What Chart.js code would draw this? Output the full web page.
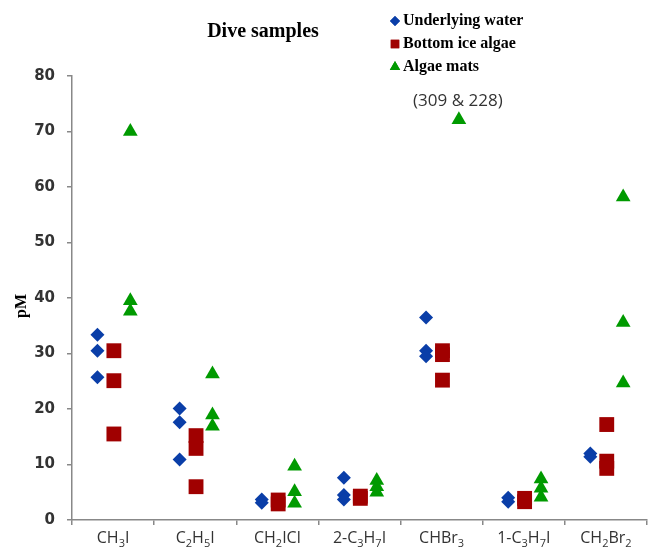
<!DOCTYPE html>
<html>
<head>
<meta charset="utf-8">
<script src="https://cdn.jsdelivr.net/npm/chart.js"></script>
<style>
  html,body{margin:0;padding:0;background:#fff;}
  #wrap{width:669px;height:548px;}
</style>
</head>
<body>
<div id="wrap"><canvas id="chart" width="669" height="548"></canvas></div>
<script>
/* ---------- DATA ---------- */
// category names, split into [text, isSubscript] runs
const categories = [
  [["CH",0],["3",1],["I",0]],
  [["C",0],["2",1],["H",0],["5",1],["I",0]],
  [["CH",0],["2",1],["ICl",0]],
  [["2-C",0],["3",1],["H",0],["7",1],["I",0]],
  [["CHBr",0],["3",1]],
  [["1-C",0],["3",1],["H",0],["7",1],["I",0]],
  [["CH",0],["2",1],["Br",0],["2",1]]
];
const underlyingWater = [[33.4,30.5,25.7],[20.1,17.6,10.9],[3.7,3.1],[7.6,4.5,3.7],[36.5,30.5,29.5],[4.0,3.3],[12.0,11.4]];
const bottomIceAlgae  = [[30.5,25.1,15.5],[15.2,12.9,6.0],[3.6,2.9],[4.3,3.9],[30.5,29.8,25.2],[3.9,3.3],[17.2,10.6,9.3]];
const algaeMats       = [[70.0,39.5,37.6],[26.3,18.9,16.9],[9.7,5.1,3.0],[7.1,6.0,5.0],[72.1],[7.4,5.7,4.1],[58.2,35.6,24.7]];
const offScaleNote = "(309 & 228)";   // CHBr3 algae mats values above the axis
const offScaleCategory = 4;
const yTicks = {min:0, max:80, step:10};

/* ---------- BUILD ---------- */
function toPoints(groups, shift){
  const pts=[];
  groups.forEach((vals,i)=>vals.forEach(v=>pts.push({x:i+0.5+shift,y:v})));
  return pts;
}
const BLUE="#0a3ea8", RED="#a00000", GREEN="#009a00";
const SANS="'Open Sans', 'DejaVu Sans', sans-serif";

function drawRuns(ctx,runs,cx,y){
  const big="16px "+SANS, small="11px "+SANS;
  let w=0;
  runs.forEach(([t,s])=>{ctx.font=s?small:big;w+=ctx.measureText(t).width;});
  let x=cx-w/2;
  runs.forEach(([t,s])=>{ctx.font=s?small:big;ctx.fillText(t,x,s?y+4:y);x+=ctx.measureText(t).width;});
}

const overlay={
  id:"overlay",
  afterDraw(chart){
    const ctx=chart.ctx;ctx.save();
    // title
    ctx.fillStyle="#000";ctx.textAlign="center";ctx.textBaseline="alphabetic";
    ctx.font="bold 20px 'Liberation Serif', serif";
    ctx.fillText("Dive samples",263,37);
    // legend
    const items=[["Underlying water",BLUE,"rectRot",5],["Bottom ice algae",RED,"rect",6],["Algae mats",GREEN,"triangle",6]];
    ctx.textAlign="left";ctx.textBaseline="middle";
    ctx.font="bold 16px 'Liberation Serif', serif";
    items.forEach(([t,c,s,r],k)=>{
      const y=21+k*23;
      ctx.fillStyle=c;
      Chart.helpers.drawPoint(ctx,{pointStyle:s,radius:r,borderWidth:0},395,y);
      ctx.fill();
      ctx.fillStyle="#000";ctx.fillText(t,403,y);
    });
    // y axis title
    ctx.save();ctx.translate(22,306);ctx.rotate(-Math.PI/2);
    ctx.textAlign="center";ctx.textBaseline="middle";ctx.fillStyle="#000";
    ctx.font="bold 16px 'Liberation Serif', serif";ctx.fillText("pM",0,0);
    ctx.restore();
    // category labels with subscripts
    const xs=chart.scales.x;
    ctx.fillStyle="#333";ctx.textAlign="left";ctx.textBaseline="alphabetic";
    categories.forEach((runs,i)=>drawRuns(ctx,runs,xs.getPixelForValue(i+0.5),543));
    // off-scale note above the CHBr3 algae mats marker
    const meta=chart.getDatasetMeta(2);
    const pts=chart.data.datasets[2].data;
    const idx=pts.findIndex(p=>Math.floor(p.x)===offScaleCategory);
    if(idx>=0){
      const el=meta.data[idx];
      ctx.fillStyle="#333";ctx.textAlign="center";ctx.textBaseline="middle";
      ctx.font="17px "+SANS;
      ctx.fillText(offScaleNote,el.x-1,el.y-19);
    }
    ctx.restore();
  }
};

new Chart(document.getElementById("chart"),{
  type:"scatter",
  data:{datasets:[
    {label:"Underlying water",data:toPoints(underlyingWater,-0.19),backgroundColor:BLUE,borderColor:BLUE,pointStyle:"rectRot",pointRadius:7,borderWidth:0},
    {label:"Bottom ice algae",data:toPoints(bottomIceAlgae,0.01),backgroundColor:RED,borderColor:RED,pointStyle:"rect",pointRadius:10.5,borderWidth:0},
    {label:"Algae mats",data:toPoints(algaeMats,0.21),backgroundColor:GREEN,borderColor:GREEN,pointStyle:"triangle",pointRadius:8.5,borderWidth:0}
  ]},
  options:{
    responsive:false,animation:false,
    layout:{padding:{top:76,right:22,left:0,bottom:0}},
    plugins:{legend:{display:false},title:{display:false},tooltip:{enabled:false}},
    scales:{
      x:{type:"linear",min:0,max:categories.length,
        afterFit(s){s.height=28;},
        border:{color:"#888",width:1.5},
        grid:{drawOnChartArea:false,tickLength:5,color:"#888",lineWidth:1.5},
        ticks:{stepSize:1,autoSkip:false,maxRotation:0,padding:3,callback:()=>""}
      },
      y:{min:yTicks.min,max:yTicks.max,
        afterFit(s){s.width=72;},
        border:{color:"#888",width:1.5},
        grid:{drawOnChartArea:false,tickLength:5,color:"#888",lineWidth:1.5},
        ticks:{stepSize:yTicks.step,padding:12,color:"#333",
          font:{family:"'DejaVu Sans', sans-serif",size:15,weight:"bold"}}
      }
    }
  },
  plugins:[overlay]
});
</script>
</body>
</html>
